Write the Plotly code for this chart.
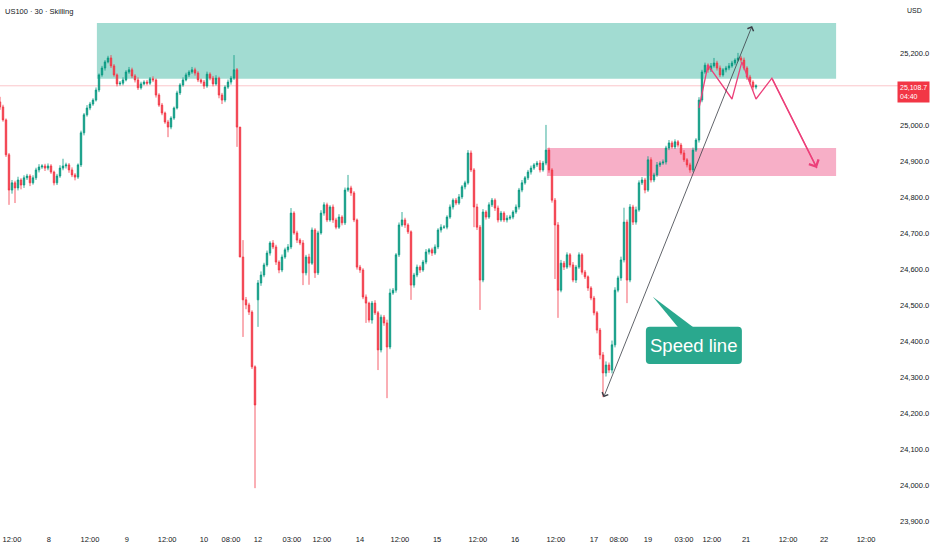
import plotly.graph_objects as go

# US100 30m candles (one bar per ~3px of the original), prices
closes = [
    25050, 25014, 24917, 24819, 24839, 24825, 24847, 24833, 24853, 24858,
    24839, 24853, 24875, 24883, 24886, 24880, 24886, 24869, 24839, 24858,
    24880, 24886, 24889, 24875, 24861, 24855, 24889, 24978, 25028, 25047,
    25058, 25069, 25097, 25139, 25158, 25175, 25186, 25164, 25139, 25114,
    25116, 25125, 25147, 25153, 25136, 25125, 25103, 25114, 25119, 25116,
    25128, 25125, 25083, 25055, 25033, 25008, 24994, 25019, 25047, 25089,
    25111, 25125, 25139, 25147, 25153, 25144, 25125, 25119, 25108, 25141,
    25130, 25114, 25130, 25083, 25069, 25105, 25119, 25130, 25153, 24994,
    24633, 24514, 24500, 24480, 24328, 24222, 24561, 24583, 24611, 24644,
    24672, 24661, 24619, 24597, 24633, 24653, 24661, 24755, 24700, 24680,
    24672, 24589, 24633, 24616, 24708, 24589, 24700, 24755, 24778, 24736,
    24772, 24736, 24716, 24744, 24728, 24819, 24825, 24811, 24736, 24605,
    24597, 24522, 24505, 24458, 24505, 24478, 24375, 24466, 24450, 24383,
    24533, 24541, 24639, 24722, 24736, 24722, 24703, 24555, 24583, 24605,
    24597, 24619, 24647, 24653, 24644, 24661, 24708, 24716, 24716, 24744,
    24772, 24791, 24783, 24800, 24828, 24839, 24922, 24875, 24772, 24716,
    24569, 24758, 24744, 24778, 24791, 24769, 24736, 24755, 24736, 24741,
    24744, 24758, 24772, 24819, 24839, 24853, 24869, 24880, 24889, 24894,
    24875, 24894, 24930, 24875, 24791, 24722, 24541, 24616, 24605, 24639,
    24611, 24569, 24605, 24639, 24591, 24578, 24547, 24519, 24478, 24430,
    24361, 24311, 24333, 24319, 24389, 24541, 24575, 24625, 24730, 24569,
    24772, 24730, 24764, 24839, 24847, 24819, 24903, 24847, 24861, 24889,
    24894, 24897, 24936, 24950, 24939, 24953, 24944, 24922, 24903, 24889,
    24875, 24930, 24958, 25069, 25147, 25166, 25153, 25164, 25172, 25158,
    25139, 25153, 25158, 25164, 25172, 25180, 25186, 25180, 25158, 25133,
    25119, 25105, 25108.7,
]

# wick lengths above / below the body, in points
upper_wick = [
    14, 6, 4, 5, 8, 6, 9, 5, 7, 6,
    5, 7, 6, 8, 5, 6, 7, 5, 4, 6,
    8, 20, 6, 5, 7, 5, 4, 6, 5, 8,
    6, 5, 7, 4, 6, 5, 6, 8, 5, 4,
    6, 7, 5, 8, 6, 5, 7, 6, 5, 6,
    5, 7, 4, 5, 6, 4, 6, 5, 4, 6,
    5, 7, 6, 5, 8, 6, 5, 4, 6, 7,
    5, 6, 8, 4, 6, 5, 7, 6, 41, 5,
    0, 47, 8, 6, 5, 4, 8, 10, 6, 7,
    5, 8, 6, 5, 7, 6, 8, 14, 5, 6,
    5, 8, 6, 9, 7, 5, 6, 8, 7, 6,
    5, 7, 6, 8, 5, 7, 36, 6, 5, 4,
    6, 5, 7, 4, 6, 8, 5, 7, 6, 9,
    12, 6, 5, 7, 22, 6, 5, 4, 6, 7,
    5, 6, 8, 5, 6, 7, 5, 8, 6, 5,
    7, 5, 6, 8, 5, 6, 8, 7, 5, 9,
    6, 8, 5, 7, 6, 5, 7, 6, 5, 8,
    6, 5, 7, 6, 8, 5, 6, 7, 5, 6,
    8, 6, 70, 7, 5, 6, 8, 9, 6, 7,
    5, 8, 6, 7, 5, 6, 4, 5, 6, 5,
    6, 8, 10, 7, 12, 8, 6, 9, 40, 7,
    8, 6, 9, 7, 8, 6, 10, 7, 6, 8,
    5, 7, 6, 8, 6, 7, 5, 6, 8, 5,
    6, 7, 5, 8, 6, 7, 5, 8, 14, 6,
    7, 5, 6, 8, 6, 5, 14, 6, 7, 5,
    6, 5, 4,
]
lower_wick = [
    8, 5, 6, 41, 10, 42, 7, 12, 8, 6,
    9, 5, 6, 7, 5, 8, 6, 5, 7, 6,
    5, 6, 7, 8, 6, 9, 5, 6, 7, 5,
    6, 5, 4, 6, 5, 7, 4, 6, 5, 7,
    5, 6, 4, 5, 6, 7, 6, 5, 4, 6,
    5, 6, 7, 5, 6, 5, 28, 6, 5, 4,
    6, 5, 4, 6, 5, 7, 6, 5, 8, 5,
    6, 7, 5, 9, 11, 6, 5, 7, 5, 55,
    0, 103, 12, 8, 6, 231, 75, 8, 6, 5,
    7, 6, 8, 9, 6, 5, 7, 6, 5, 8,
    6, 34, 7, 60, 5, 14, 6, 5, 7, 6,
    5, 8, 6, 5, 7, 6, 5, 8, 6, 7,
    8, 6, 55, 7, 10, 6, 56, 7, 8, 142,
    6, 5, 7, 6, 5, 8, 6, 41, 7, 6,
    8, 5, 6, 7, 8, 5, 6, 7, 5, 6,
    5, 7, 6, 5, 6, 7, 5, 6, 56, 8,
    83, 6, 7, 5, 6, 8, 7, 5, 6, 7,
    5, 6, 5, 7, 6, 5, 6, 7, 5, 6,
    7, 5, 6, 8, 7, 150, 77, 6, 8, 5,
    7, 6, 8, 5, 7, 6, 8, 6, 7, 9,
    12, 67, 10, 8, 9, 7, 6, 8, 7, 64,
    6, 8, 7, 5, 6, 9, 5, 7, 6, 5,
    6, 5, 7, 6, 5, 6, 7, 5, 6, 7,
    8, 6, 5, 7, 6, 5, 8, 6, 5, 7,
    6, 5, 7, 6, 5, 6, 4, 7, 6, 8,
    7, 9, 6,
]
first_open = 25064
gap_opens = {86: 24514}  # weekend gap after the 23,990 low

assert len(closes) == len(upper_wick) == len(lower_wick)

# time axis labels (bar positions)
tick_pos = [4, 16.3, 30, 42.3, 55.7, 68, 77, 86, 97.3, 107.3, 120, 133.3, 145.7,
            159.3, 171.7, 185.3, 198, 206.3, 216, 228, 237.3, 248.7, 262.7, 274.7, 288.7]
tick_text = ["12:00", "8", "12:00", "9", "12:00", "10", "08:00", "12", "03:00", "12:00",
             "14", "12:00", "15", "12:00", "16", "12:00", "17", "08:00", "19", "03:00",
             "12:00", "21", "12:00", "22", "12:00"]
price_ticks = [23900, 24000, 24100, 24200, 24300, 24400, 24500, 24600,
               24700, 24800, 24900, 25000, 25200]

last_price = 25108.7
supply_zone = (25128, 25283)   # green box
demand_zone = (24858, 24936)   # pink box
speed_start = (201, 24239)
speed_end = (250.7, 25275)
path_x = [233, 236, 244, 247.3, 252, 257.3, 272.3]
path_y = [25047, 25166, 25072, 25175, 25072, 25130, 24880]

opens = [first_open] + closes[:-1]
for k, v in gap_opens.items():
    opens[k] = v
highs = [max(o, c) + w for o, c, w in zip(opens, closes, upper_wick)]
lows = [min(o, c) - w for o, c, w in zip(opens, closes, lower_wick)]
bars = list(range(len(closes)))

UP = "#089981"
DOWN = "#f23645"
FONT = "Liberation Sans, Arial, sans-serif"

fig = go.Figure()
fig.add_trace(go.Candlestick(
    x=bars, open=opens, high=highs, low=lows, close=closes,
    increasing=dict(line=dict(color=UP, width=0.8), fillcolor=UP),
    decreasing=dict(line=dict(color=DOWN, width=0.8), fillcolor=DOWN),
    whiskerwidth=0, showlegend=False, hoverinfo="skip",
))

# pink projected path
fig.add_trace(go.Scatter(
    x=path_x, y=path_y, mode="lines",
    line=dict(color="#ec407a", width=1.3), showlegend=False, hoverinfo="skip",
))

shapes = []
shapes.append(dict(type="rect", xref="x", yref="y", x0=32.3, x1=278.7,
                   y0=supply_zone[0], y1=supply_zone[1], layer="below",
                   fillcolor="rgba(34,171,148,0.42)", line=dict(width=0)))
shapes.append(dict(type="rect", xref="x", yref="y", x0=182.3, x1=278.7,
                   y0=demand_zone[0], y1=demand_zone[1], layer="below",
                   fillcolor="rgba(236,64,122,0.42)", line=dict(width=0)))
shapes.append(dict(type="line", xref="paper", yref="y", x0=0, x1=1.003,
                   y0=last_price, y1=last_price, layer="below",
                   line=dict(color="rgba(242,54,69,0.28)", width=1)))

# "Speed line" callout, rounded box + pointer
bx0, bx1, by0, by1 = 215.3, 247.3, 24336, 24439
rx, ry = 1.3, 11
box_path = (f"M{bx0+rx},{by0} L{bx1-rx},{by0} Q{bx1},{by0} {bx1},{by0+ry} "
            f"L{bx1},{by1-ry} Q{bx1},{by1} {bx1-rx},{by1} L{bx0+rx},{by1} "
            f"Q{bx0},{by1} {bx0},{by1-ry} L{bx0},{by0+ry} Q{bx0},{by0} {bx0+rx},{by0} Z")
shapes.append(dict(type="path", xref="x", yref="y", path=box_path,
                   fillcolor="#2aa88e", line=dict(width=0)))
shapes.append(dict(type="path", xref="x", yref="y",
                   path=f"M217.6,24523 L226.7,{by1-8} L232.2,{by1-8} Z",
                   fillcolor="#2aa88e", line=dict(width=0)))

annotations = []
annotations.append(dict(x=speed_end[0], y=speed_end[1], ax=speed_start[0], ay=speed_start[1],
                        xref="x", yref="y", axref="x", ayref="y", text="",
                        showarrow=True, arrowhead=4, arrowsize=1.6, arrowwidth=0.8,
                        arrowcolor="#3a3d45", arrowside="end+start", startarrowhead=4,
                        startarrowsize=1.6, standoff=0, startstandoff=0))
annotations.append(dict(x=path_x[-1], y=path_y[-1], ax=path_x[-2], ay=path_y[-2],
                        xref="x", yref="y", axref="x", ayref="y", text="",
                        showarrow=True, arrowhead=4, arrowsize=1.6, arrowwidth=1.3,
                        arrowcolor="#ec407a", standoff=0))
annotations.append(dict(x=(bx0 + bx1) / 2, y=(by0 + by1) / 2, xref="x", yref="y",
                        text="Speed line", showarrow=False,
                        font=dict(family=FONT, size=18.5, color="white")))
annotations.append(dict(x=0, y=1, xref="paper", yref="paper", xanchor="left", yanchor="top",
                        xshift=3, yshift=-5, text="US100 · 30 · Skilling", showarrow=False,
                        font=dict(family=FONT, size=7.5, color="#131722")))
annotations.append(dict(x=1, y=1, xref="paper", yref="paper", xanchor="left", yanchor="top",
                        xshift=9, yshift=-5, text="USD", showarrow=False,
                        font=dict(family=FONT, size=7, color="#131722")))
annotations.append(dict(x=1, y=last_price, xref="paper", yref="y", xanchor="left",
                        yanchor="top", xshift=1, yshift=5,
                        text="25,108.7<br>04:40", showarrow=False, align="left",
                        bgcolor=DOWN, borderpad=2,
                        font=dict(family=FONT, size=7, color="white")))

fig.update_layout(
    width=932, height=550,
    margin=dict(l=0, r=36, t=0, b=17),
    paper_bgcolor="white", plot_bgcolor="white",
    shapes=shapes, annotations=annotations,
    font=dict(family=FONT, size=7.5, color="#131722"),
    xaxis=dict(range=[0, 298.67], rangeslider=dict(visible=False), showgrid=False,
               zeroline=False, showline=False, ticks="",
               tickmode="array", tickvals=tick_pos, ticktext=tick_text,
               tickfont=dict(family=FONT, size=7.5, color="#131722")),
    yaxis=dict(range=[23866.4, 25347], side="right", showgrid=False, zeroline=False,
               showline=False, ticks="", tickmode="array", tickvals=price_ticks,
               ticktext=[f"{v:,.1f}" for v in price_ticks], ticklabelstandoff=3,
               tickfont=dict(family=FONT, size=7.5, color="#131722")),
)

# page body has a default 8px margin; drop it so the figure sits at 0,0
fig.write_html("out.html", config={"displayModeBar": False},
               post_script="document.body.style.margin='0';")
